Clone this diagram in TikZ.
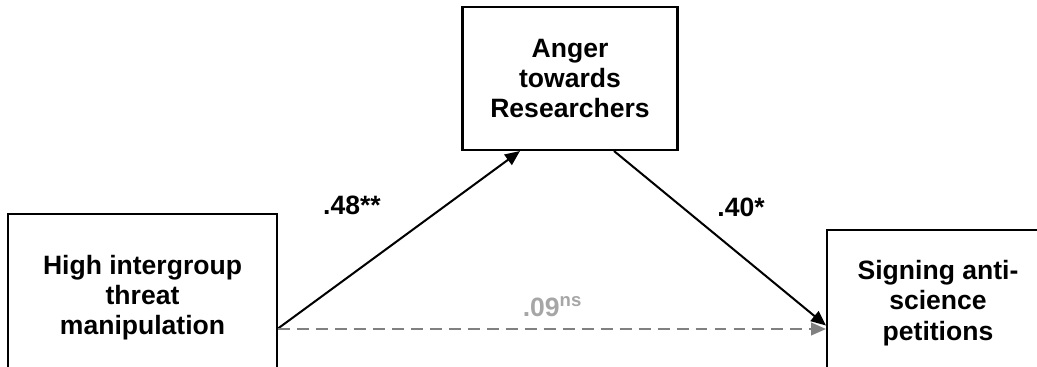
\documentclass[tikz,border=0pt]{standalone}
\usepackage{fontspec}
\setmainfont{Liberation Sans}
\usepackage{xcolor}
\usetikzlibrary{arrows.meta,positioning}

\definecolor{pathgray}{RGB}{128,128,128}
\definecolor{labgray}{RGB}{166,166,166}

\begin{document}
\begin{tikzpicture}[
  box/.style={
    draw, line width=1.15pt, inner sep=0pt,
    align=center,
    font=\fontsize{15.1}{17.2}\selectfont\bfseries},
  arr/.style={-{Triangle[length=8.5pt,width=7.2pt]}, line width=1.15pt,
    black},
  dasharr/.style={-{Triangle[length=8.5pt,width=7.2pt]}, line width=1.15pt,
    pathgray, dash pattern=on 6.8pt off 4pt},
  coef/.style={font=\fontsize{15.1}{17.2}\selectfont\bfseries,
    inner sep=0pt}]

% Page frame (boxes run off the lower and right edges)
\clip (0,0) rectangle (20.74,7.32);

% Three variables
\node[box, minimum width=5.38cm, minimum height=3.34cm] (threat) at (2.85,1.37)
  {High intergroup\\threat\\manipulation};
\node[box, minimum width=4.3cm, minimum height=2.86cm] (anger) at (11.4,5.75)
  {Anger\\towards\\Researchers};
\node[box, minimum width=4.44cm, minimum height=2.92cm] (petition) at (18.76,1.26)
  {Signing anti-\\science\\petitions};

% Paths
\draw[arr] ([yshift=-0.62cm]threat.east) -- ([xshift=-1.0cm]anger.south);
\draw[arr] ([xshift=0.88cm]anger.south) -- ([yshift=-0.45cm]petition.west);
\draw[dasharr] ([yshift=-0.63cm]threat.east) -- ([yshift=-0.52cm]petition.west);

% Coefficients
\node[coef] (ca) at (7.04,3.22) {.48**};
\node[coef] (cb) at (14.82,3.18) {.40*};
\node[coef, text=labgray, anchor=base west] (cc) at (10.45,1.0)
  {.09\textsuperscript{ns}};

\end{tikzpicture}
\end{document}
